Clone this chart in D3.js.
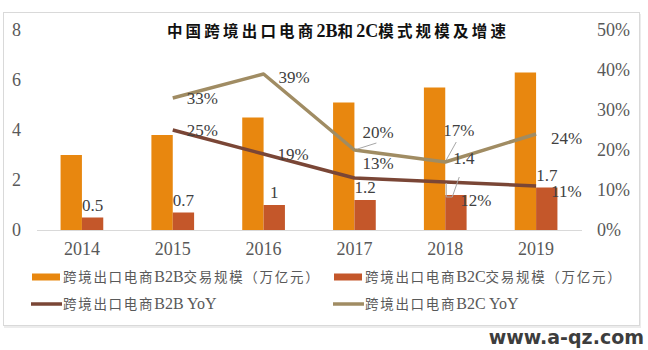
<!DOCTYPE html>
<html lang="zh">
<head>
  <meta charset="UTF-8">
  <title>中国跨境出口电商2B和2C模式规模及增速</title>
  <script src="https://cdn.jsdelivr.net/npm/d3@7/dist/d3.min.js"></script>
  <style>
    html, body { margin: 0; padding: 0; background: #fff; }
    svg { display: block; }
    .serif { font-family: "Liberation Serif", "Noto Sans CJK SC", serif; }
  </style>
</head>
<body>
<script>
  // data
  const years = ["2014", "2015", "2016", "2017", "2018", "2019"];
  const b2bScale = [3.0, 3.8, 4.5, 5.1, 5.7, 6.3];
  const b2cScale = [0.5, 0.7, 1.0, 1.2, 1.4, 1.7];
  const b2bYoY = [null, 25, 19, 13, 12, 11];
  const b2cYoY = [null, 33, 39, 20, 17, 24];
  const leftTicks = [0, 2, 4, 6, 8];
  const rightTicks = [0, 10, 20, 30, 40, 50];
  const legendNames = [
    "跨境出口电商B2B交易规模（万亿元）",
    "跨境出口电商B2C交易规模（万亿元）",
    "跨境出口电商B2B YoY",
    "跨境出口电商B2C YoY"
  ];

  const W = 648, H = 350;
  const colB2B = "#e8870f", colB2C = "#c4572a";
  const colLine1 = "#7a4636", colLine2 = "#a08c63";

  // label nudges (px) relative to the point, by year index
  const b2bNudge = [null, [14, 0], [14, 0], [8, -15], [15, 18], [15, 5]];
  const b2cNudge = [null, [14, 0], [15, 3], [8, -18], [-2, -32], [15, 4]];
  const b2cValNudge = [[0, 0], [0, 0], [0, 0], [0, 0], [8, -24], [0, 0]];

  const svg = d3.select("body").append("svg")
    .attr("width", W).attr("height", H);

  // CJK runs get extra spacing, latin runs stay tight and a bit larger
  function spacedText(sel, str, spacing, latinSize) {
    const re = /[\u3000-\u9fff\uff00-\uffef]/;
    const runs = str.match(/[\u3000-\u9fff\uff00-\uffef]+|[^\u3000-\u9fff\uff00-\uffef]+/g);
    runs.forEach(r => {
      const ts = sel.append("tspan").text(r);
      if (re.test(r)) ts.attr("letter-spacing", spacing);
      else ts.attr("letter-spacing", 0).attr("font-size", latinSize);
    });
    return sel;
  }

  // frame with a soft shadow
  svg.append("rect").attr("x", 4).attr("y", 14).attr("width", 637).attr("height", 314)
    .attr("fill", "#ececec");
  svg.append("rect").attr("x", 3.5).attr("y", 12.5).attr("width", 636).attr("height", 313)
    .attr("fill", "#fff").attr("stroke", "#d9d9d9");

  const x = d3.scaleBand().domain(years).range([36.5, 581.5]).padding(0);
  const yL = d3.scaleLinear().domain([0, 8]).range([230, 30]);
  const yR = d3.scaleLinear().domain([0, 50]).range([230, 30]);
  const bw = x.bandwidth() * 0.235;
  const cx = d => x(d) + x.bandwidth() / 2;

  // title
  const title = svg.append("text").attr("class", "serif")
    .attr("x", 338).attr("y", 37)
    .attr("text-anchor", "middle")
    .attr("font-size", 15.5).attr("font-weight", "bold")
    .attr("fill", "#111");
  spacedText(title, "中国跨境出口电商2B和2C模式规模及增速", 3.2, 18);

  // left axis labels
  const leftAxis = d3.axisLeft(yL).tickValues(leftTicks).tickSize(0).tickPadding(0);
  const gl = svg.append("g").attr("transform", "translate(21,0)").call(leftAxis);
  gl.select(".domain").remove();
  gl.selectAll("text").attr("class", "serif").attr("font-size", 18).attr("fill", "#595959");

  // right axis labels
  const rightAxis = d3.axisRight(yR).tickValues(rightTicks).tickSize(0).tickPadding(0)
    .tickFormat(d => d + "%");
  const gr = svg.append("g").attr("transform", "translate(597,0)").call(rightAxis);
  gr.select(".domain").remove();
  gr.selectAll("text").attr("class", "serif").attr("font-size", 18).attr("fill", "#595959");

  // category axis
  const bottomAxis = d3.axisBottom(x).tickSize(0).tickPadding(12);
  const gb = svg.append("g").attr("transform", "translate(0,230)").call(bottomAxis);
  gb.select(".domain").attr("stroke", "#d9d9d9");
  gb.selectAll("text").attr("class", "serif").attr("font-size", 18).attr("fill", "#595959");

  // bars
  svg.append("g").selectAll("rect").data(years).join("rect")
    .attr("x", d => cx(d) - bw).attr("width", bw)
    .attr("y", (d, i) => yL(b2bScale[i]))
    .attr("height", (d, i) => yL(0) - yL(b2bScale[i]))
    .attr("fill", colB2B);
  svg.append("g").selectAll("rect").data(years).join("rect")
    .attr("x", d => cx(d)).attr("width", bw)
    .attr("y", (d, i) => yL(b2cScale[i]))
    .attr("height", (d, i) => yL(0) - yL(b2cScale[i]))
    .attr("fill", colB2C);

  // lines
  const pts = arr => years.map((d, i) => ({ x: cx(d), y: arr[i] == null ? null : yR(arr[i]), v: arr[i], i }))
    .filter(p => p.v != null);
  const line = d3.line().x(p => p.x).y(p => p.y);
  const p1 = pts(b2bYoY), p2 = pts(b2cYoY);
  svg.append("path").attr("d", line(p1)).attr("fill", "none")
    .attr("stroke", colLine1).attr("stroke-width", 3.5).attr("stroke-linejoin", "round");
  svg.append("path").attr("d", line(p2)).attr("fill", "none")
    .attr("stroke", colLine2).attr("stroke-width", 3.5).attr("stroke-linejoin", "round");

  // leader lines (2017 and 2018 labels)
  const leader = svg.append("g").attr("stroke", "#a6a6a6").attr("stroke-width", 1).attr("fill", "none");
  const c17 = cx("2017"), c18 = cx("2018");
  leader.append("line").attr("x1", c17 + 3).attr("y1", yR(20) - 1).attr("x2", c17 + 22).attr("y2", yR(20) - 7);
  leader.append("line").attr("x1", c18 + 1).attr("y1", yR(17) - 2).attr("x2", c18 + 11).attr("y2", yR(17) - 20);
  leader.append("polyline").attr("points",
    [[c18 + 1, yR(12) + 1], [c18 + 1, yL(1.4) + 2], [c18 + 7, yL(1.4) + 2], [c18 + 14, yL(1.4) - 18]].join(" "));

  // data labels
  const lbl = svg.append("g").attr("class", "serif").attr("font-size", 17).attr("fill", "#404040");
  lbl.selectAll(".v").data(years).join("text").attr("class", "v")
    .attr("x", (d, i) => cx(d) + bw / 2 + b2cValNudge[i][0])
    .attr("y", (d, i) => yL(b2cScale[i]) - 7 + b2cValNudge[i][1])
    .attr("text-anchor", "middle")
    .text((d, i) => b2cScale[i]);
  lbl.selectAll(".a").data(p1).join("text").attr("class", "a")
    .attr("x", p => p.x + b2bNudge[p.i][0])
    .attr("y", p => p.y + b2bNudge[p.i][1])
    .attr("dy", "0.35em")
    .text(p => p.v + "%");
  lbl.selectAll(".b").data(p2).join("text").attr("class", "b")
    .attr("x", p => p.x + b2cNudge[p.i][0])
    .attr("y", p => p.y + b2cNudge[p.i][1])
    .attr("dy", "0.35em")
    .text(p => p.v + "%");

  // legend
  const legendPos = [[32, 277], [334, 277], [32, 304], [334, 304]];
  const lg = svg.append("g");
  legendNames.forEach((name, i) => {
    const [lx, ly] = legendPos[i];
    if (i < 2) {
      lg.append("rect").attr("x", lx).attr("y", ly - 3.5).attr("width", 28).attr("height", 7)
        .attr("fill", i === 0 ? colB2B : colB2C);
    } else {
      lg.append("line").attr("x1", lx - 1).attr("x2", lx + 30).attr("y1", ly).attr("y2", ly)
        .attr("stroke", i === 2 ? colLine1 : colLine2).attr("stroke-width", 3.5);
    }
    const t = lg.append("text").attr("class", "serif")
      .attr("x", lx + 31).attr("y", ly).attr("dy", "0.36em")
      .attr("font-size", 13.5)
      .attr("fill", "#595959");
    spacedText(t, name, 1.7, 16);
  });

  // watermark
  svg.append("text")
    .attr("x", 644).attr("y", 344)
    .attr("text-anchor", "end")
    .attr("font-family", "DejaVu Sans, sans-serif")
    .attr("font-weight", "bold")
    .attr("font-size", 19)
    .attr("fill", "#3d3d3d")
    .text("www.a-qz.com");
</script>
</body>
</html>
